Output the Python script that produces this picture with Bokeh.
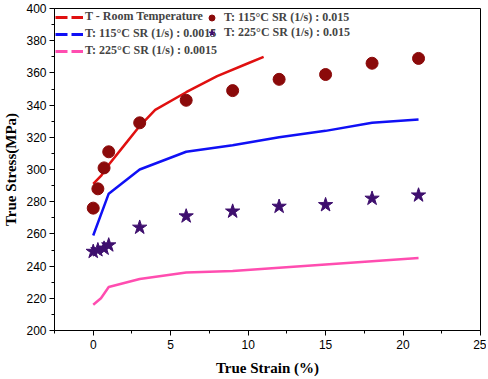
from bokeh.plotting import figure
from bokeh.models import Range1d, FixedTicker, Legend, LegendItem
from bokeh.embed import file_html
from bokeh.resources import INLINE

# Data
room_strain = [0, 0.5, 1, 2, 3, 4, 6, 8, 10, 11]
room_stress = [291, 296, 303, 315, 327, 337, 348, 358, 366, 370]

t115_slow_strain = [0, 1, 3, 6, 9, 12, 15, 18, 21]
t115_slow_stress = [259, 285, 300, 311, 315, 320, 324, 329, 331]

t225_slow_strain = [0, 0.5, 1, 3, 6, 9, 12, 15, 18, 21]
t225_slow_stress = [216, 220, 227, 232, 236, 237, 239, 241, 243, 245]

t115_fast_strain = [0, 0.3, 0.7, 1, 3, 6, 9, 12, 15, 18, 21]
t115_fast_stress = [276, 288, 301, 311, 329, 343, 349, 356, 359, 366, 369]

t225_fast_strain = [0, 0.3, 0.7, 1, 3, 6, 9, 12, 15, 18, 21]
t225_fast_stress = [249, 250, 251, 253, 264, 271, 274, 277, 278, 282, 284]

x_ticks = [0, 5, 10, 15, 20, 25]
y_ticks = [200, 220, 240, 260, 280, 300, 320, 340, 360, 380, 400]

RED = "#E01010"
BLUE = "#1010F5"
PINK = "#FF4DB0"
DOT = "#8B0A0A"
STAR = "#3E0F6E"

p = figure(width=486, height=378, output_backend="svg", toolbar_location=None,
           x_range=Range1d(-2.5, 25), y_range=Range1d(200, 400),
           min_border_left=46, min_border_top=8, min_border_right=6, min_border_bottom=0)
p.xgrid.visible = False
p.ygrid.visible = False
p.outline_line_color = "black"
p.outline_line_width = 1
p.background_fill_color = "white"
p.border_fill_color = "white"

p.xaxis.ticker = FixedTicker(ticks=x_ticks, minor_ticks=[-2.5, 2.5, 7.5, 12.5, 17.5, 22.5])
p.yaxis.ticker = FixedTicker(ticks=y_ticks, minor_ticks=list(range(210, 400, 20)))
for ax in (p.xaxis, p.yaxis):
    ax.axis_line_color = "black"
    ax.major_tick_line_color = "black"
    ax.minor_tick_line_color = "black"
    ax.major_tick_in = 0
    ax.major_tick_out = 5
    ax.minor_tick_in = 0
    ax.minor_tick_out = 3
    ax.major_label_text_font = "Liberation Sans"
    ax.major_label_text_font_size = "12px"
    ax.major_label_text_color = "black"
    ax.axis_label_text_font = "Liberation Serif"
    ax.axis_label_text_font_style = "bold"
    ax.axis_label_text_font_size = "15px"
    ax.axis_label_text_color = "black"
p.xaxis.axis_label = "True Strain (%)"
p.yaxis.axis_label = "True Stress(MPa)"
p.yaxis.major_label_standoff = 3
p.yaxis.axis_label_standoff = 4
p.xaxis.major_label_standoff = 4
p.xaxis.axis_label_standoff = 8

r1 = p.line(room_strain, room_stress, line_color=RED, line_width=2.5)
r2 = p.line(t115_slow_strain, t115_slow_stress, line_color=BLUE, line_width=2.5)
r3 = p.line(t225_slow_strain, t225_slow_stress, line_color=PINK, line_width=2.5)
r4 = p.scatter(t115_fast_strain, t115_fast_stress, marker="circle", size=12,
               fill_color=DOT, line_color=DOT)
r5 = p.scatter(t225_fast_strain, t225_fast_stress, marker="star", size=15,
               fill_color=STAR, line_color=STAR)

# legend-only dashed line renderers (single NaN point, nothing drawn)
nan = float("nan")
l1 = p.line([nan], [nan], line_color=RED, line_width=3, line_dash="12 4")
l2 = p.line([nan], [nan], line_color=BLUE, line_width=3, line_dash="12 4")
l3 = p.line([nan], [nan], line_color=PINK, line_width=3, line_dash="12 4")

common = dict(background_fill_alpha=0, border_line_alpha=0,
              label_text_font="Liberation Serif", label_text_font_style="bold",
              label_text_font_size="12px", padding=1, margin=0)

leg1 = Legend(items=[LegendItem(label="T - Room Temperature", renderers=[l1]),
                     LegendItem(label="T: 115°C SR (1/s) : 0.0015", renderers=[l2]),
                     LegendItem(label="T: 225°C SR (1/s) : 0.0015", renderers=[l3])],
              location="top_left", glyph_width=28, label_standoff=2,
              label_height=14, glyph_height=14, spacing=2, **common)
leg2 = Legend(items=[LegendItem(label="T: 115°C SR (1/s) : 0.015", renderers=[r4]),
                     LegendItem(label="T: 225°C SR (1/s) : 0.015", renderers=[r5])],
              location=(148, 289), glyph_width=17, label_standoff=4,
              label_height=15, glyph_height=15, spacing=0, **common)
p.add_layout(leg1)
p.add_layout(leg2)

open("out.html", "w").write(file_html(p, INLINE))
